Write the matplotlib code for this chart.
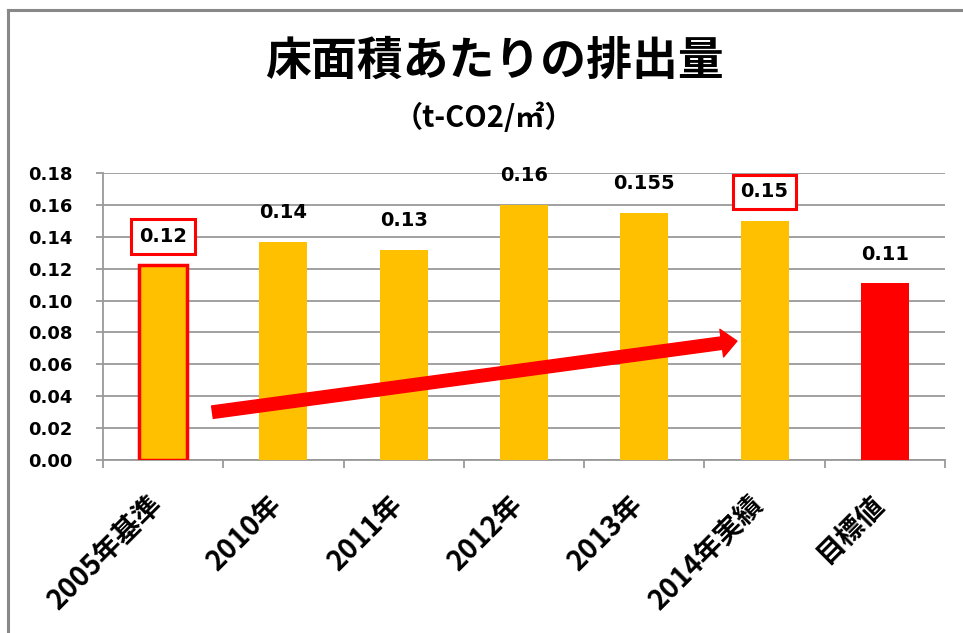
import matplotlib
matplotlib.use("Agg")
import matplotlib.pyplot as plt
from matplotlib.lines import Line2D
from matplotlib.transforms import ScaledTranslation

plt.rcParams['font.family'] = ['Noto Sans CJK JP', 'DejaVu Sans']
NUM_FONT = ['DejaVu Sans', 'Noto Sans CJK JP']

categories = ["2005年基準", "2010年", "2011年", "2012年", "2013年", "2014年実績", "目標値"]
values = [0.122, 0.137, 0.132, 0.160, 0.155, 0.150, 0.111]
value_labels = ["0.12", "0.14", "0.13", "0.16", "0.155", "0.15", "0.11"]
bar_colors = ["#FFC000"] * 6 + ["#FF0000"]
boxed = [0, 5]
yticks = [0.00, 0.02, 0.04, 0.06, 0.08, 0.10, 0.12, 0.14, 0.16, 0.18]
arrow_start = (0.41, 0.030)
arrow_end = (4.77, 0.0746)

fig = plt.figure(figsize=(9.63, 6.33), dpi=100)
ax = fig.add_axes([103/963, 1-460/633, (945-103)/963, (460-173)/633])

x = list(range(len(categories)))
bars = ax.bar(x, values, width=0.4, color=bar_colors, zorder=3)
bars[0].set_edgecolor("#FF0000")
bars[0].set_linewidth(2.5)

for i, (v, lab) in enumerate(zip(values, value_labels)):
    kw = {}
    if i in boxed:
        kw['bbox'] = dict(boxstyle='square,pad=0.4', fc='white', ec='#FF0000', lw=2.2)
    ax.annotate(lab, (i, v), xytext=(0, 14), textcoords='offset points',
                ha='center', va='bottom', fontsize=14, fontweight='bold',
                family=NUM_FONT, zorder=5, **kw)

ax.set_xlim(-0.5, len(categories) - 0.5)
ax.set_ylim(0, 0.18)
ax.set_yticks(yticks)
ax.set_yticklabels([f"{t:.2f}" for t in yticks], fontsize=13, fontweight='bold',
                   family=NUM_FONT)
ax.yaxis.grid(True, color='#9A9A9A', lw=1.3, zorder=0)
ax.set_axisbelow(True)

# category labels placed at category positions, rotated
ax.set_xticks([i - 0.5 for i in range(len(categories) + 1)])
ax.set_xticklabels([])
ax.tick_params(axis='x', length=6, color='#9A9A9A', width=1.3)
label_tr = ax.get_xaxis_transform() + ScaledTranslation(-0.15, -0.30, fig.dpi_scale_trans)
for i, cat in enumerate(categories):
    ax.text(i, 0, cat, transform=label_tr, rotation=45, rotation_mode='anchor',
            ha='right', va='top', fontsize=20, fontweight='bold', clip_on=False)
ax.tick_params(axis='y', length=5, color='#9A9A9A', width=1.3, pad=17)

for s in ['top', 'right']:
    ax.spines[s].set_visible(False)
for s in ['left', 'bottom']:
    ax.spines[s].set_color('#9A9A9A')
    ax.spines[s].set_linewidth(1.3)

ax.annotate('', xy=arrow_end, xytext=arrow_start,
            arrowprops=dict(arrowstyle='simple,head_width=20,head_length=11,tail_width=9',
                            mutation_scale=1, fc='#FF0000', ec='#FF0000',
                            shrinkA=0, shrinkB=0), zorder=6)

fig.text(494/963, 1-62/633, "床面積あたりの排出量", ha='center', va='center',
         fontsize=33, fontweight='bold')
fig.text(484/963, 1-118/633, "（t-CO2/㎡）", ha='center', va='center',
         fontsize=21, fontweight='bold')

fig.add_artist(Line2D([7.5/963, 7.5/963], [0, 1-9.5/633], transform=fig.transFigure,
                      color='#888888', lw=2.2))
fig.add_artist(Line2D([7.5/963, 1], [1-9.5/633, 1-9.5/633], transform=fig.transFigure,
                      color='#888888', lw=2.2))

fig.savefig("out.png", dpi=100)
